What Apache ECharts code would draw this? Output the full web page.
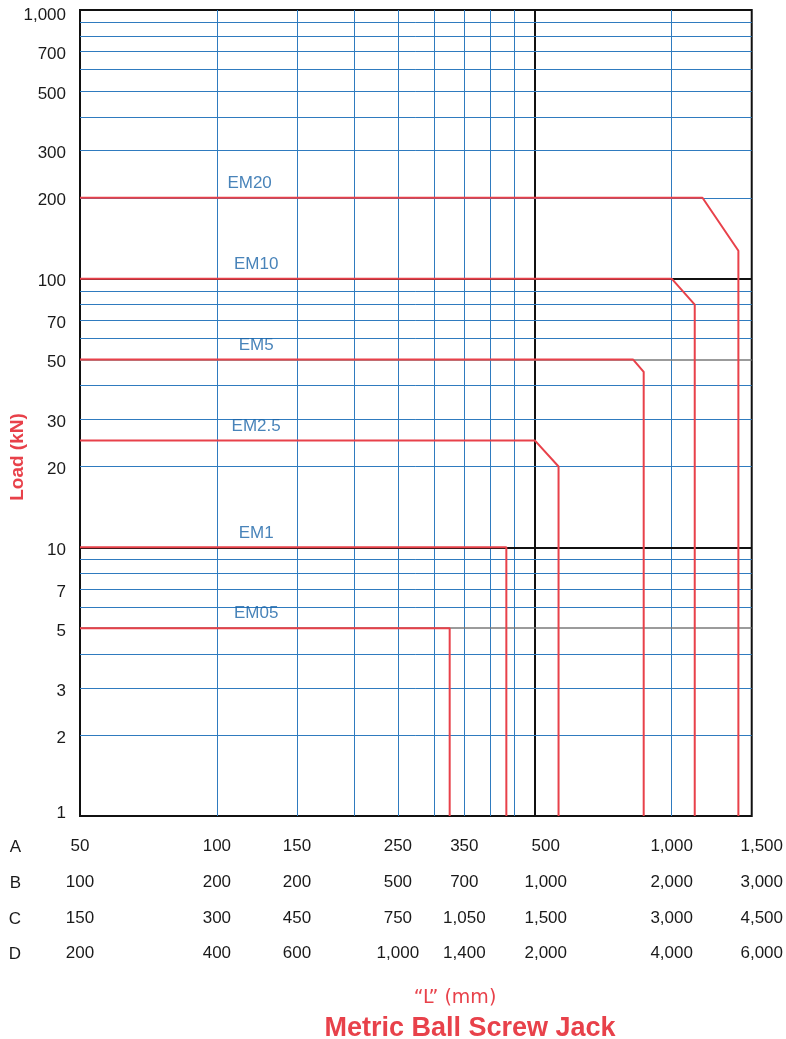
<!DOCTYPE html>
<html>
<head>
<meta charset="utf-8">
<script src="https://cdn.jsdelivr.net/npm/echarts@6/dist/echarts.min.js"></script>
<style>html,body{margin:0;padding:0;background:#fff;}#c{width:786px;height:1039px;}</style>
</head>
<body>
<div id="c"></div>
<script>
// ---- data ----
const seriesNames = ['EM05', 'EM1', 'EM2.5', 'EM5', 'EM10', 'EM20'];
const curveLengths = [
  [50, 325, 325],
  [50, 433, 433],
  [50, 500, 564, 564],
  [50, 823, 868, 868],
  [50, 1000, 1124, 1124],
  [50, 1169, 1402, 1402]
];
const curveLoads = [
  [5, 5, 1],
  [10, 10, 1],
  [25, 25, 20, 1],
  [50, 50, 45, 1],
  [100, 100, 80, 1],
  [200, 200, 127, 1]
];
const nameLengths = [122, 122, 122, 122, 122, 118];
const nameLoads = [5, 10, 25, 50, 100, 200];

const tickLengths = [50, 100, 150, 250, 350, 500, 1000, 1500];
const rowNames = ['A', 'B', 'C', 'D'];
const rowLabels = [
  ['50', '100', '150', '250', '350', '500', '1,000', '1,500'],
  ['100', '200', '200', '500', '700', '1,000', '2,000', '3,000'],
  ['150', '300', '450', '750', '1,050', '1,500', '3,000', '4,500'],
  ['200', '400', '600', '1,000', '1,400', '2,000', '4,000', '6,000']
];
const loadTicks = [1, 2, 3, 5, 7, 10, 20, 30, 50, 70, 100, 200, 300, 500, 700, 1000];
const gridLengths = [100, 150, 200, 250, 300, 350, 400, 450, 500, 1000];
const gridLoads = [2, 3, 4, 5, 6, 7, 8, 9, 10, 20, 30, 40, 50, 60, 70, 80, 90, 100, 200, 300, 400, 500, 600, 700, 800, 900];
const blackLengths = [500];
const blackLoads = [10, 100];
const grayLoads = [5, 50];

// ---- styling ----
const RED = '#e8414a';
const BLUE = '#2f7bbf';
const LABEL_BLUE = '#1a64a8';
const TXT = '#1a1a1a';
const FONT = '"Liberation Sans", Arial, sans-serif';

const chart = echarts.init(document.getElementById('c'), null, {renderer: 'canvas'});

function fmtNum(v) {
  const r = Math.round(v);
  return r.toLocaleString('en-US');
}
function nearestIdx(arr, v) {
  let best = 0, bd = Infinity;
  arr.forEach((t, i) => { const d = Math.abs(Math.log(t) - Math.log(v)); if (d < bd) { bd = d; best = i; } });
  return best;
}

const rowOffsets = [31, 67, 103, 138];
const xAxes = rowNames.map((nm, r) => ({
  type: 'log', logBase: 10, min: 50, max: 1500, gridIndex: 0, position: 'bottom',
  offset: rowOffsets[r],
  axisLine: {show: false}, axisTick: {show: false}, splitLine: {show: false},
  axisLabel: {
    customValues: tickLengths, margin: -9, fontSize: 17, color: TXT, fontFamily: FONT,
    formatter: function (v) {
      const i = nearestIdx(tickLengths, v);
      const t = rowLabels[r][i];
      if (i === 5) return '{s|' + t + '}';
      if (i === 7) return '{e|' + t + '}';
      return '{n|' + t + '}';
    },
    rich: {
      n: {fontSize: 17, color: TXT, fontFamily: FONT},
      s: {fontSize: 17, color: TXT, fontFamily: FONT, padding: [0, 0, 0, 22]},
      e: {fontSize: 17, color: TXT, fontFamily: FONT, padding: [0, 0, 0, 20]}
    }
  },
  name: nm, nameLocation: 'start', nameGap: 59,
  nameTextStyle: {fontSize: 17, color: TXT, fontFamily: FONT, verticalAlign: 'middle'}
}));

const gridMarks = [];
gridLengths.forEach(v => {
  const black = blackLengths.includes(v);
  gridMarks.push({xAxis: v, lineStyle: {color: black ? '#111' : BLUE, width: black ? 2 : 1, type: 'solid'}});
});
gridLoads.forEach(v => {
  const black = blackLoads.includes(v);
  const gray = grayLoads.includes(v);
  gridMarks.push({yAxis: v, lineStyle: {color: black ? '#111' : (gray ? '#7a7a7a' : BLUE), width: black ? 2 : (gray ? 1.5 : 1), type: 'solid'}});
});

const series = [{
  type: 'line', data: [], xAxisIndex: 0, yAxisIndex: 0, silent: true, z: 1,
  markLine: {silent: true, z: 1, symbol: 'none', label: {show: false}, animation: false, data: gridMarks}
}];
seriesNames.forEach((nm, k) => {
  series.push({
    name: nm, type: 'line', xAxisIndex: 0, yAxisIndex: 0, z: 6,
    data: curveLengths[k].map((x, i) => [x, curveLoads[k][i]]),
    symbol: 'none', lineStyle: {color: RED, width: 2}, animation: false
  });
});
series.push({
  type: 'scatter', xAxisIndex: 0, yAxisIndex: 0, z: 7, symbolSize: 0, animation: false,
  data: seriesNames.map((nm, k) => ({name: nm, value: [nameLengths[k], nameLoads[k]]})),
  label: {show: true, position: 'top', distance: 6, formatter: p => p.name, fontSize: 17, color: LABEL_BLUE, fontFamily: FONT}
});

chart.setOption({
  animation: false,
  backgroundColor: '#fff',
  grid: {left: 80, right: 34, top: 10, bottom: 223, show: true, borderColor: '#111', borderWidth: 2, backgroundColor: 'transparent'},
  xAxis: xAxes,
  yAxis: {
    type: 'log', logBase: 10, min: 1, max: 1000,
    axisLine: {show: false}, axisTick: {show: false}, splitLine: {show: false},
    axisLabel: {customValues: loadTicks, margin: 14, fontSize: 17, color: TXT, fontFamily: FONT,
      formatter: function (v) {
        const i = nearestIdx(loadTicks, v);
        const t = fmtNum(loadTicks[i]);
        if (i === 0) return '{b|' + t + '}';
        if (i === loadTicks.length - 1) return '{t|' + t + '}';
        return '{m|' + t + '}';
      },
      rich: {
        m: {fontSize: 17, color: TXT, fontFamily: FONT, padding: [6, 0, 0, 0]},
        b: {fontSize: 17, color: TXT, fontFamily: FONT, padding: [0, 0, 6, 0]},
        t: {fontSize: 17, color: TXT, fontFamily: FONT, padding: [10, 0, 0, 0]}
      }
    }
  },
  title: [
    {text: '\u201CL\u201D (mm)', left: 450, top: 984, textAlign: 'center',
      textStyle: {fontSize: 19, fontWeight: 'normal', color: RED, fontFamily: '"DejaVu Sans", sans-serif'}},
    {text: 'Metric Ball Screw Jack', left: 465, top: 1010, textAlign: 'center',
      textStyle: {fontSize: 27, fontWeight: 'bold', color: RED, fontFamily: FONT}}
  ],
  graphic: [{
    type: 'text', x: 18, y: 457, rotation: Math.PI / 2,
    style: {text: 'Load (kN)', fill: RED, font: 'bold 19px ' + FONT, textAlign: 'center', textVerticalAlign: 'middle'}
  }],
  series: series
});
</script>
</body>
</html>
